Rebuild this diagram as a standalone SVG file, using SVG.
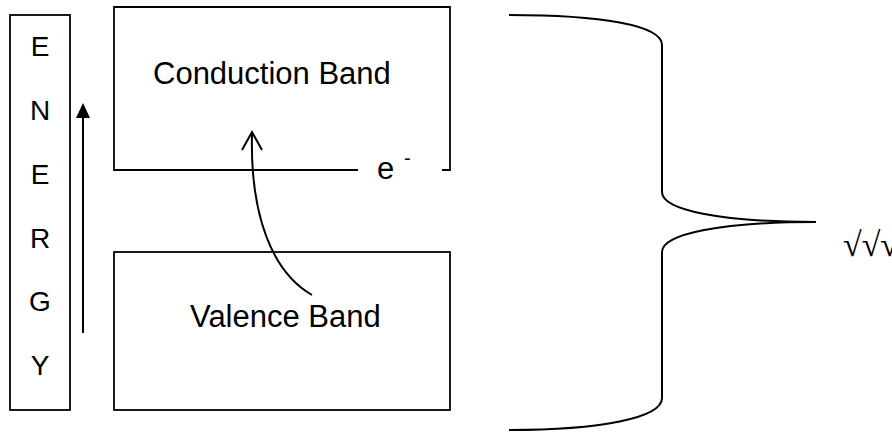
<svg xmlns="http://www.w3.org/2000/svg" width="892" height="432" viewBox="0 0 892 432">
<style>
.box{fill:none;stroke:#000;stroke-width:1.8}
.ln{fill:none;stroke:#000;stroke-width:2}
.t{font-family:"Liberation Sans",Arial,sans-serif;fill:#000}
.lt{font-size:28px;text-anchor:middle}
.bt{font-size:31px}
</style>
<rect width="892" height="432" fill="#fff"/>
<g id="energy">
<rect class="box" x="10" y="15" width="60" height="395"/>
<text class="t lt" x="40" y="56">E</text>
<text class="t lt" x="40" y="120">N</text>
<text class="t lt" x="40" y="184">E</text>
<text class="t lt" x="40" y="248">R</text>
<text class="t lt" x="40" y="311">G</text>
<text class="t lt" x="40" y="375">Y</text>
</g>
<g id="conduction">
<path class="box" d="M358,170 L114,170 L114,7 L450,7 L450,170 L442,170"/>
<text class="t bt" x="153" y="84">Conduction Band</text>
<text class="t bt" x="377" y="179">e</text>
<text class="t" x="404" y="165" font-size="20">-</text>
</g>
<g id="valence">
<rect class="box" x="114" y="252" width="336" height="158"/>
<text class="t bt" x="190" y="327">Valence Band</text>
</g>
<g id="brace">
<path class="ln" d="M509,15 C600,15 662,25 662,45 L662,192 C662,210 720,222 816,222 C720,222 662,234 662,252 L662,398 C662,418 600,430 509,430"/>
<text x="843" y="256" font-family="Liberation Serif,serif" font-size="34">√√√</text>
</g>
<g id="connectors">
<line class="ln" x1="83" y1="333" x2="83" y2="116"/>
<polygon points="83,103 76,118 90,118" fill="#000"/>
<path class="ln" d="M312,295 C272,272 250,215 252,134"/>
<polyline class="ln" points="242,150 252,132 262,150"/>
</g>
</svg>
